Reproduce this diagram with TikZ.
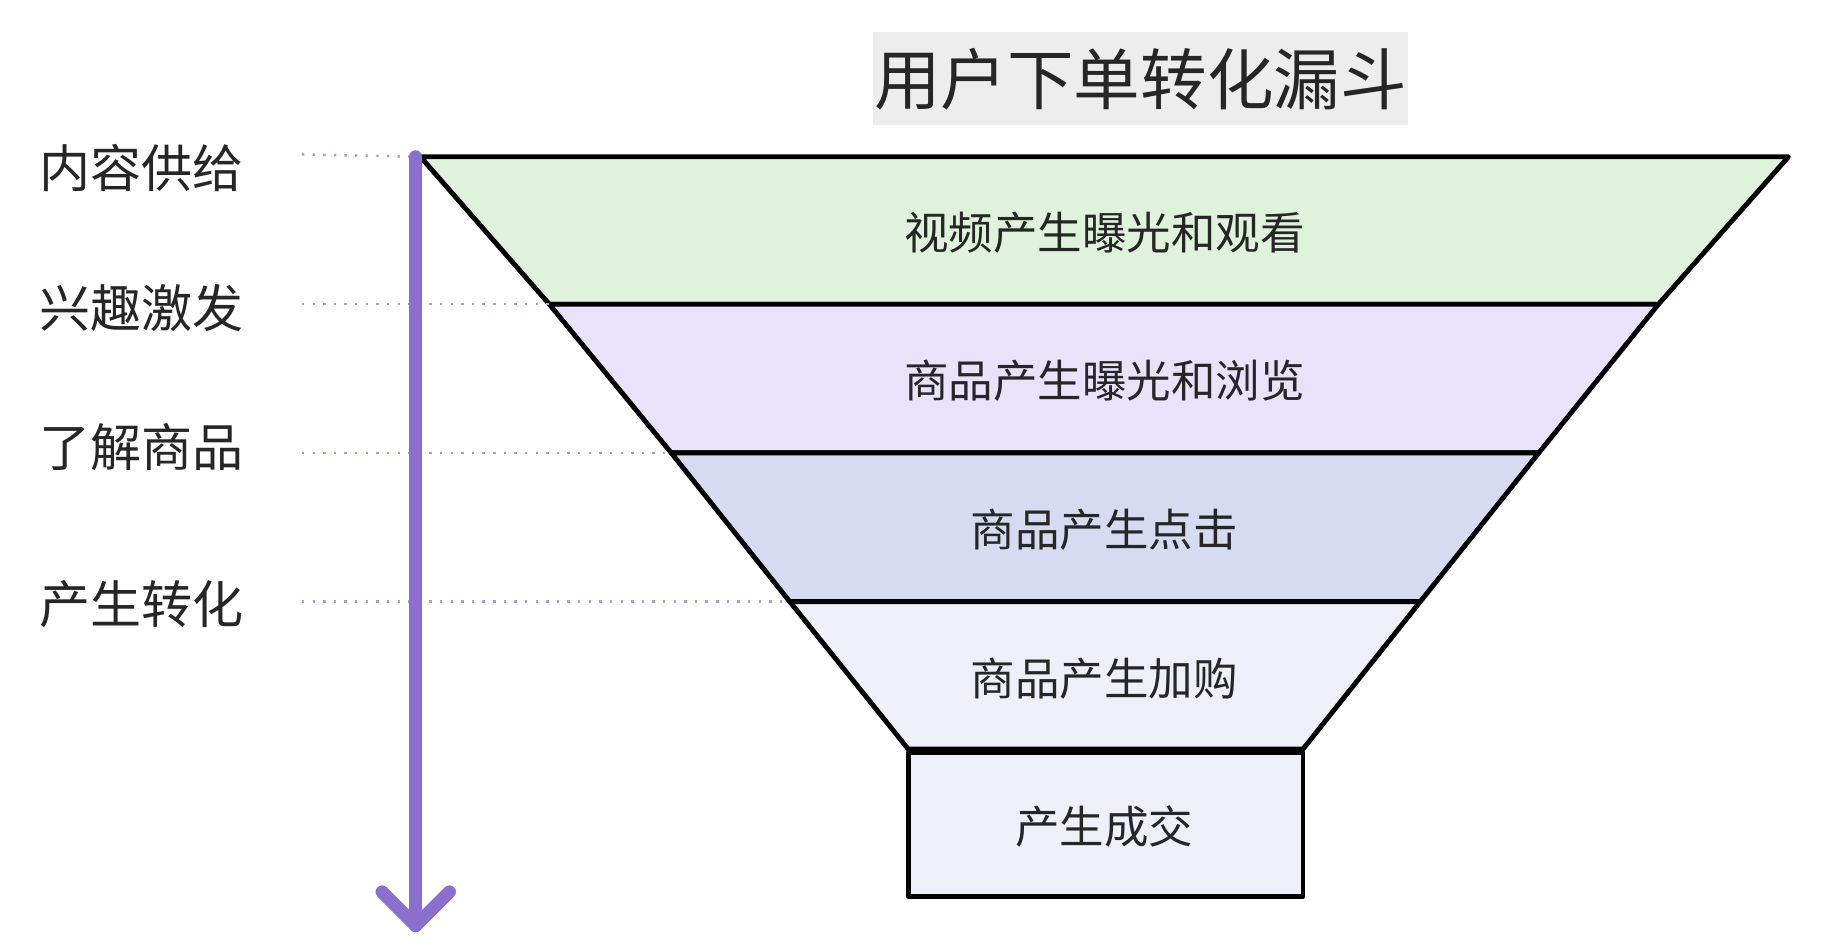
\documentclass[tikz,border=0pt]{standalone}
\usepackage{fontspec}
\setmainfont{Noto Sans CJK SC}
\usepackage{tikz}
\usetikzlibrary{positioning}
\definecolor{lvGreen}{HTML}{DFF3DC}
\definecolor{lvLilac}{HTML}{E8E3FA}
\definecolor{lvBlue}{HTML}{D6DBF1}
\definecolor{lvPale}{HTML}{EEF0F9}
\definecolor{arrowPurple}{HTML}{8A6FCF}
\tikzset{
  stage/.style={draw=black,line width=1.2pt,line join=round},
  stagetxt/.style={font=\fontsize{10.9}{13}\selectfont,text=black!85},
  sidetxt/.style={font=\fontsize{12.5}{15}\selectfont,text=black!85},
  guide/.style={dotted,draw=arrowPurple!70,line width=0.6pt}
}
\begin{document}
\begin{tikzpicture}[x=0.01cm,y=-0.01cm]
		\useasboundingbox (0,0) rectangle (1568,813);
		% funnel layers
		\coordinate (t1) at (362,135); \coordinate (t2) at (1540,135);
		\coordinate (a1) at (473,262); \coordinate (a2) at (1428,262);
		\coordinate (b1) at (578,390); \coordinate (b2) at (1325,390);
		\coordinate (c1) at (680,518); \coordinate (c2) at (1223,518);
		\coordinate (d1) at (782,645); \coordinate (d2) at (1122,645);
		\filldraw[stage,fill=lvGreen] (t1) -- (t2) -- (a2) -- (a1) -- cycle;
		\filldraw[stage,fill=lvLilac] (a1) -- (a2) -- (b2) -- (b1) -- cycle;
		\filldraw[stage,fill=lvBlue] (b1) -- (b2) -- (c2) -- (c1) -- cycle;
		\filldraw[stage,fill=lvPale] (c1) -- (c2) -- (d2) -- (d1) -- cycle;
		\filldraw[stage,fill=lvPale] (782,648) rectangle (1122,772);
		%
		\node[stagetxt] (s1) at (951,200) {视频产生曝光和观看};
		\node[stagetxt] (s2) at (951,328) {商品产生曝光和浏览};
		\node[stagetxt] (s3) at (951,456) {商品产生点击};
		\node[stagetxt] (s4) at (951,584) {商品产生加购};
		\node[stagetxt] (s5) at (951,712) {产生成交};
		% title
		\node[fill=black!7,font=\fontsize{16.3}{19}\selectfont,text=black!85,
		  minimum width=4.61cm,minimum height=0.8cm,inner sep=0pt] (title) at (982,68) {用户下单转化漏斗};
		% side labels
		\node[sidetxt] (l1) at (122,145) {内容供给};
		\node[sidetxt] (l2) at (122,265) {兴趣激发};
		\node[sidetxt] (l3) at (122,385) {了解商品};
		\node[sidetxt] (l4) at (122,520) {产生转化};
		\coordinate (g1) at (260,133); \coordinate (g2) at (260,262);
		\coordinate (g3) at (260,390); \coordinate (g4) at (260,518);
		\draw[guide] (g1) -- (t1);
		\draw[guide] (g2) -- (a1);
		\draw[guide] (g3) -- (b1);
		\draw[guide] (g4) -- (c1);
		% arrow
		\coordinate (ar0) at (358,135); \coordinate (ar1) at (358,797);
		\draw[arrowPurple,line width=3.2pt,line cap=round] (ar0) -- (ar1);
		\draw[arrowPurple,line width=3.2pt,line cap=round,line join=round]
		  (329,768) -- (ar1) -- (387,768);
\end{tikzpicture}
\end{document}
